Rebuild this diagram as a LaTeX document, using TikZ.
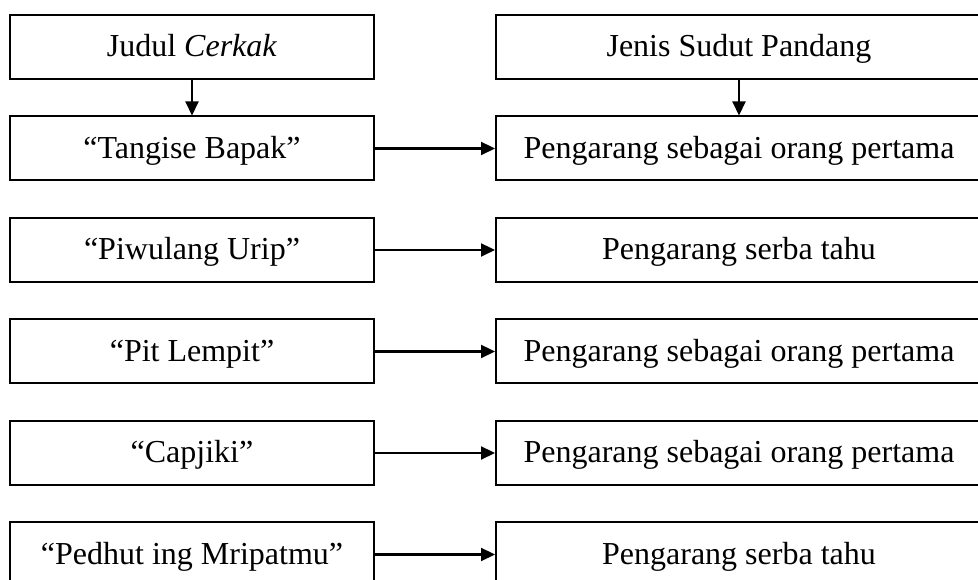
\documentclass[tikz,border=0pt]{standalone}
\usepackage{fontspec}
\setmainfont{Liberation Serif}
\usetikzlibrary{arrows.meta, positioning}

\begin{document}
\begin{tikzpicture}[x=1pt, y=1pt, >={Triangle[length=14pt, width=13pt]},
    node distance=35.5pt and 120pt,
    judulbox/.style={draw, line width=2pt, minimum width=364pt, minimum height=64pt,
                     inner sep=0pt, text height=25pt, text depth=5pt,
                     font=\fontsize{32}{38}\selectfont},
    jenisbox/.style={judulbox, minimum width=486pt},
    link/.style={->, line width=2.2pt}]
    \useasboundingbox (0,0) rectangle (978,580);

    %define the title boxes
    \node[judulbox] (judul) at (192,533) {Judul \textit{Cerkak}};
    \node[judulbox] (tangise)  [below=of judul]    {“Tangise Bapak”};
    \node[judulbox] (piwulang) [below=of tangise]  {“Piwulang Urip”};
    \node[judulbox] (pit)      [below=of piwulang] {“Pit Lempit”};
    \node[judulbox] (capjiki)  [below=of pit]      {“Capjiki”};
    \node[judulbox] (pedhut)   [below=of capjiki]  {“Pedhut ing Mripatmu”};

    %define the point of view boxes
    \node[jenisbox] (peng1) [right=of tangise]  {Pengarang sebagai orang pertama};
    \node[jenisbox] (jenis) [above=of peng1]    {Jenis Sudut Pandang};
    \node[jenisbox] (peng2) [right=of piwulang] {Pengarang serba tahu};
    \node[jenisbox] (peng3) [right=of pit]      {Pengarang sebagai orang pertama};
    \node[jenisbox] (peng4) [right=of capjiki]  {Pengarang sebagai orang pertama};
    \node[jenisbox] (peng5) [right=of pedhut]   {Pengarang serba tahu};

    %define the links
    \draw[link] (judul)    -- (tangise);
    \draw[link] (jenis)    -- (peng1);
    \draw[link] (tangise)  -- (peng1);
    \draw[link] (piwulang) -- (peng2);
    \draw[link] (pit)      -- (peng3);
    \draw[link] (capjiki)  -- (peng4);
    \draw[link] (pedhut)   -- (peng5);
\end{tikzpicture}
\end{document}
